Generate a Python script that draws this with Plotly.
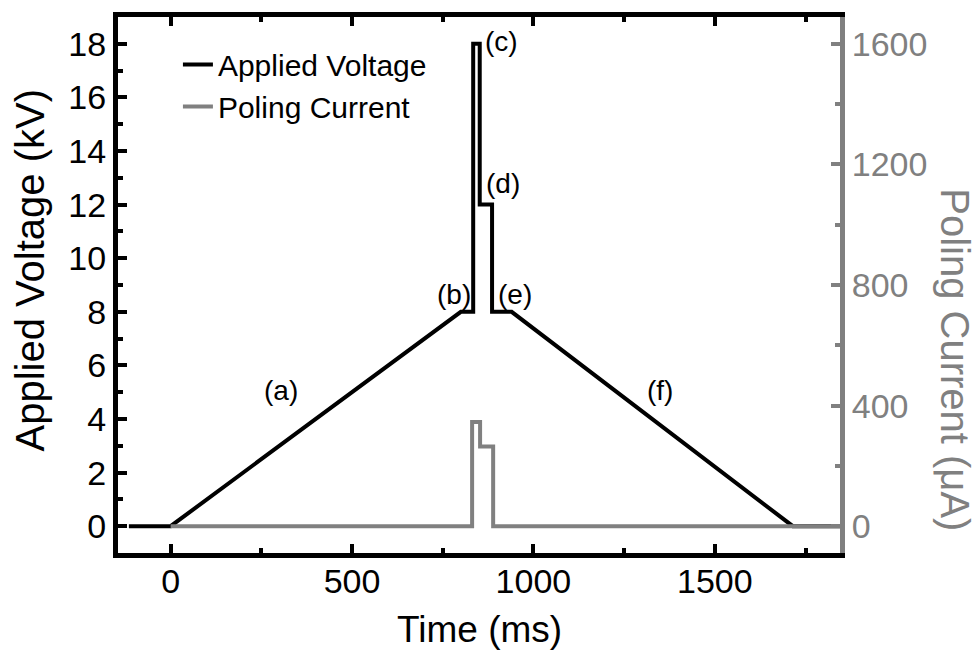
import plotly.graph_objects as go

# Data
volt_time = [-115, 0, 800, 834, 834, 852, 852, 886, 886, 940, 1715, 1850]
volt_kv = [0, 0, 8, 8, 18, 18, 12, 12, 8, 8, 0, 0]

cur_time = [0, 831, 831, 853, 853, 889, 889, 1850]
cur_ua = [0, 0, 346, 346, 264, 264, 0, 0]

label_text = ["(a)", "(b)", "(c)", "(d)", "(e)", "(f)"]
label_time = [303, 782, 912, 916, 950, 1350]
label_kv = [5.05, 8.65, 18.1, 12.8, 8.65, 5.05]

x_ticks = [0, 500, 1000, 1500]
y_ticks = [0, 2, 4, 6, 8, 10, 12, 14, 16, 18]
y2_ticks = [0, 400, 800, 1200, 1600]

BLACK = "#000000"
GRAY = "#808080"
FONT = "Arial, 'Liberation Sans', sans-serif"

fig = go.Figure()
fig.add_trace(go.Scatter(x=volt_time, y=volt_kv, mode="lines", name="Applied Voltage",
                         line=dict(color=BLACK, width=4), yaxis="y"))
fig.add_trace(go.Scatter(x=cur_time, y=cur_ua, mode="lines", name="Poling Current",
                         line=dict(color=GRAY, width=4), yaxis="y2"))

for t, x, y in zip(label_text, label_time, label_kv):
    fig.add_annotation(x=x, y=y, xref="x", yref="y", text=t, showarrow=False,
                       font=dict(size=28, color=BLACK, family=FONT))

# axis titles
fig.add_annotation(x=0.501, y=-0.142, xref="paper", yref="paper", text="Time (ms)",
                   showarrow=False, xanchor="center", yanchor="middle",
                   font=dict(size=37, color=BLACK, family=FONT))
fig.add_annotation(x=-0.122, y=0.527, xref="paper", yref="paper", text="Applied Voltage (kV)",
                   showarrow=False, xanchor="center", yanchor="middle", textangle=-90,
                   font=dict(size=40, color=BLACK, family=FONT))
fig.add_annotation(x=1.159, y=0.36, xref="paper", yref="paper", text="Poling Current (μA)",
                   showarrow=False, xanchor="center", yanchor="middle", textangle=90,
                   font=dict(size=40, color=GRAY, family=FONT))

ymin, ymax = -1, 19
scale = 1600 / 18

fig.update_layout(
    width=977, height=655,
    margin=dict(l=118, r=137, t=14, b=102),
    paper_bgcolor="white", plot_bgcolor="white",
    font=dict(family=FONT, size=28, color=BLACK),
    showlegend=True,
    legend=dict(x=0.083, y=0.96, xanchor="left", yanchor="top",
                bgcolor="rgba(0,0,0,0)", font=dict(size=30, family=FONT),
                tracegroupgap=0),
    xaxis=dict(range=[-145, 1845], tickvals=x_ticks, showgrid=False, zeroline=False,
               showline=True, linecolor=BLACK, linewidth=5, mirror="ticks",
               ticks="inside", ticklen=9, tickwidth=4, tickcolor=BLACK,
               ticklabelstandoff=-6,
               minor=dict(dtick=250, tick0=0, ticks="inside", ticklen=5, tickwidth=4, tickcolor=BLACK),
               tickfont=dict(size=34, color=BLACK)),
    yaxis=dict(range=[ymin, ymax], tickvals=y_ticks, showgrid=False, zeroline=False,
               showline=True, linecolor=BLACK, linewidth=5,
               ticks="inside", ticklen=9, tickwidth=4, tickcolor=BLACK,
               minor=dict(dtick=1, tick0=0, ticks="inside", ticklen=5, tickwidth=4, tickcolor=BLACK),
               tickfont=dict(size=34, color=BLACK)),
    yaxis2=dict(range=[ymin * scale, ymax * scale], tickvals=y2_ticks, overlaying="y", side="right",
                showgrid=False, zeroline=False, showline=True, linecolor=GRAY, linewidth=5,
                ticks="inside", ticklen=9, tickwidth=4, tickcolor=GRAY,
                minor=dict(dtick=200, tick0=0, ticks="inside", ticklen=5, tickwidth=4, tickcolor=GRAY),
                tickfont=dict(size=34, color=GRAY)),
)

fig.write_html("out.html")
